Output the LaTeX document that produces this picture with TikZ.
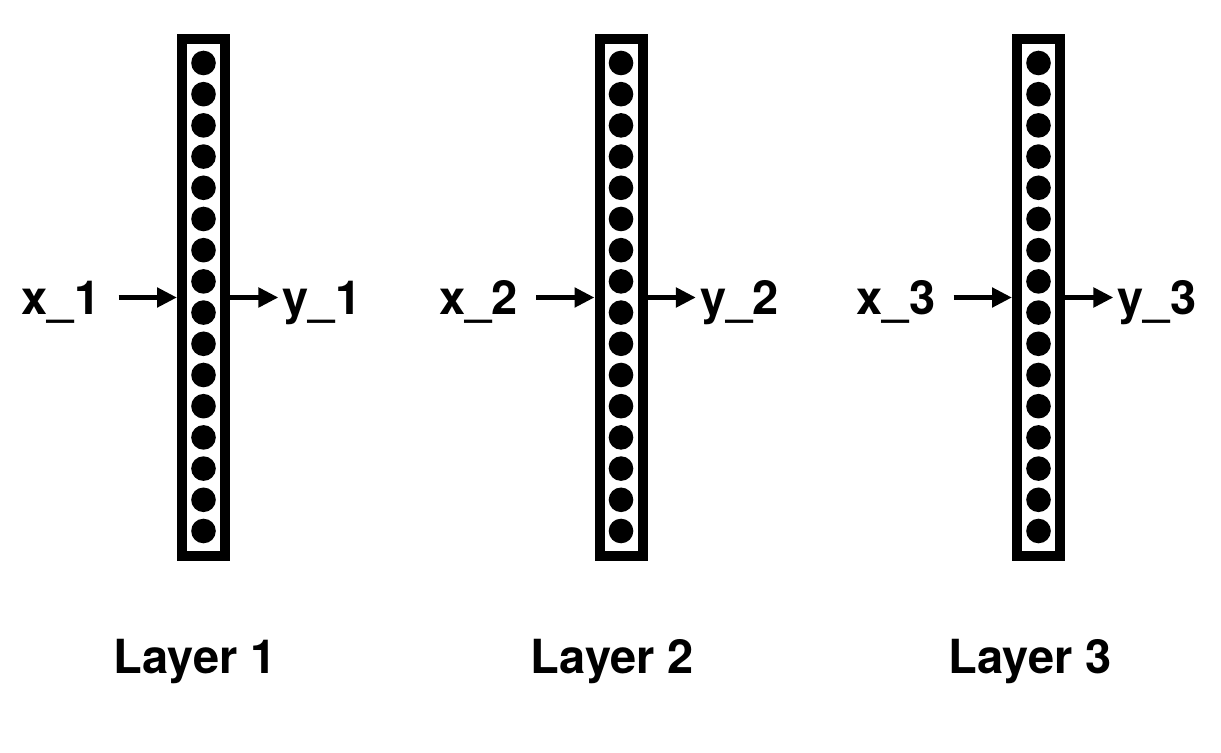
\documentclass[tikz,border=0pt]{standalone}
\usepackage{fontspec}
\setmainfont{TeX Gyre Heros}
\usetikzlibrary{arrows.meta,calc}
\begin{document}
\begin{tikzpicture}[x=0.5pt,y=-0.5pt,
  layerbox/.style={draw, line width=5pt, minimum width=21.5pt, minimum height=258.5pt, inner sep=0pt},
  labeltext/.style={font=\bfseries\fontsize{23.5}{28}\selectfont, inner sep=0pt},
  arr/.style={line width=2.5pt, -{Triangle[length=10pt,width=9.5pt]}},
  neuron/.style={fill=black}]
\useasboundingbox (0,0) rectangle (1221,753);
\foreach \i/\dx in {1/0, 2/417.5, 3/835} {
  \node[layerbox] (b\i) at (203.5+\dx, 297.5) {};
  \foreach \k in {0,...,15} \fill[neuron] (203.5+\dx, 63+31.2*\k) circle[radius=6.15pt];
  \node[labeltext, anchor=base] (x\i) at (61+\dx, 315) {x\_\i};
  \node[labeltext, anchor=base] (y\i) at (322+\dx, 315) {y\_\i};
  \node[labeltext, anchor=base] (l\i) at (195+\dx, 673) {Layer \i};
  \draw[arr, shorten <=9pt] (x\i.east |- b\i.west) -- (b\i.west);
  \draw[arr, shorten >=2pt] (b\i.east) -- (y\i.west |- b\i.east);
}
\end{tikzpicture}
\end{document}
